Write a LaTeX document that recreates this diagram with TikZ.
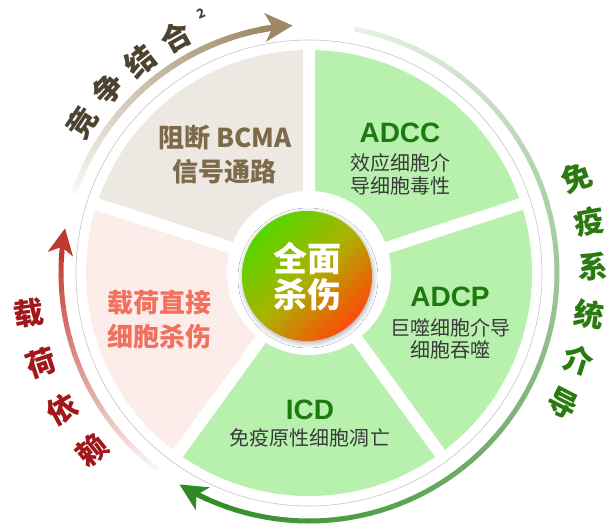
\documentclass[tikz,border=0pt]{standalone}
\usepackage{fontspec}
\setmainfont{Noto Sans CJK SC}
\newfontfamily\lat{Liberation Sans}
\usetikzlibrary{arrows.meta,shadows.blur}
\definecolor{beigeS}{HTML}{EDE9E2}
\definecolor{greenS}{HTML}{B8F0AE}
\definecolor{pinkS}{HTML}{FDEDEA}
\definecolor{brownT}{HTML}{7D6A4B}
\definecolor{brownArc}{HTML}{4D4330}
\definecolor{brownA}{HTML}{9C8862}
\definecolor{greenA}{HTML}{2F8A24}
\definecolor{greenT}{HTML}{2A7A10}
\definecolor{titleG}{HTML}{1D7A0E}
\definecolor{subT}{HTML}{3A3A3A}
\definecolor{salmon}{HTML}{F2705F}
\definecolor{redA}{HTML}{C0392F}
\definecolor{redT}{HTML}{A3171B}
\definecolor{coreG}{HTML}{55D600}
\definecolor{coreM}{HTML}{AAB200}
\definecolor{coreO}{HTML}{FF4A0A}
\begin{document}
\begin{tikzpicture}[x=1pt,y=1pt,
  secbig/.style={font=\fontsize{26}{28}\selectfont\bfseries, inner sep=0pt},
  titletext/.style={font=\lat\fontsize{28}{30}\selectfont\bfseries, text=titleG, inner sep=0pt},
  subtext/.style={font=\fontsize{20}{22}\selectfont, text=subT, inner sep=0pt},
  arcchar/.style={font=\fontsize{30}{32}\selectfont\bfseries, inner sep=0pt},
  sep/.style={white, line width=12pt},
]
\useasboundingbox (-309,-252) rectangle (301,273);
\fill[white] (-309,-252) rectangle (301,273);

% sectors
\fill[beigeS] (0,0) -- (90:223) arc[start angle=90,end angle=162,radius=223] -- cycle;
\fill[greenS] (0,0) -- (18:223) arc[start angle=18,end angle=90,radius=223] -- cycle;
\fill[greenS] (0,0) -- (-54:223) arc[start angle=-54,end angle=18,radius=223] -- cycle;
\fill[greenS] (0,0) -- (-126:223) arc[start angle=-126,end angle=-54,radius=223] -- cycle;
\fill[pinkS] (0,0) -- (162:223) arc[start angle=162,end angle=234,radius=223] -- cycle;
\foreach \t in {90,18,-54,-126,162} \draw[sep] (0,0) -- (\t:236);

% thin outer ring
\draw[gray!45, line width=0.6pt] (0,0) circle[radius=233];

% centre
\fill[white] (0,0) circle[radius=82];
\node[circle, inner sep=0pt, minimum size=130pt,
  blur shadow={shadow xshift=1pt, shadow yshift=-2pt, shadow blur radius=5pt, shadow opacity=35},
  top color=coreG, bottom color=coreO, middle color=coreM, shading angle=45] (core) at (-2,-3) {};
\node[font=\fontsize{34}{36}\selectfont\bfseries, text=white, inner sep=0pt] (c1) at (-2,15) {全面};
\node[font=\fontsize{34}{36}\selectfont\bfseries, text=white, inner sep=0pt] (c2) at (-2,-22) {杀伤};

% sector texts
\node[secbig, text=brownT] (b1) at (-84,135) {阻断 BCMA};
\node[secbig, text=brownT] (b2) at (-84,101) {信号通路};
\node[titletext] (t1) at (91,140) {ADCC};
\node[subtext] (s1a) at (91,110) {效应细胞介};
\node[subtext] (s1b) at (91,87) {导细胞毒性};
\node[titletext] (t2) at (141,-24) {ADCP};
\node[subtext] (s2a) at (141,-55) {巨噬细胞介导};
\node[subtext] (s2b) at (141,-77) {细胞吞噬};
\node[titletext] (t3) at (1,-137) {ICD};
\node[subtext] (s3a) at (1,-165) {免疫原性细胞凋亡};
\node[secbig, text=salmon] (p1) at (-149,-30) {载荷直接};
\node[secbig, text=salmon] (p2) at (-149,-64) {细胞杀伤};

% brown arrow
\foreach \k in {0,...,40} {
  \pgfmathsetmacro\a{161.1-\k*1.5}
  \pgfmathtruncatemacro\p{8+\k*2.3}
  \draw[line width=6pt, brownA!\p!white] (\a:248) arc[start angle=\a, end angle=\a-1.7, radius=248];
}
\draw[line width=6pt, brownA, -{Stealth[length=27pt, width=28pt, inset=7pt]}] (101.2:248) arc[start angle=101.2, end angle=93.8, radius=248];

% green arrow
\foreach \k in {0,...,80} {
  \pgfmathsetmacro\a{79.4-\k*2.42}
  \pgfmathtruncatemacro\p{12+\k*1.1}
  \draw[line width=5pt, greenA!\p!white] (\a:248) arc[start angle=\a, end angle=\a-2.6, radius=248];
}
\draw[line width=5pt, greenA, -{Stealth[length=27pt, width=26pt, inset=7pt]}] (-114:248) arc[start angle=-114, end angle=-121.5, radius=248];

% red arrow
\foreach \k in {0,...,30} {
  \pgfmathsetmacro\a{232.3-\k*1.84}
  \pgfmathtruncatemacro\p{5+\k*3.1}
  \draw[line width=5pt, redA!\p!white] (\a:248) arc[start angle=\a, end angle=\a-2.0, radius=248];
}
\draw[line width=5pt, redA, -{Stealth[length=26pt, width=25pt, inset=7pt]}] (177.2:248) arc[start angle=177.2, end angle=169.6, radius=248];

% brown arc text
\node[arcchar, text=brownArc, rotate=56.5] (w1) at (146.5:272) {竞};
\node[arcchar, text=brownArc, rotate=47.5] (w2) at (137.5:272) {争};
\node[arcchar, text=brownArc, rotate=38.5] (w3) at (128.5:271) {结};
\node[arcchar, text=brownArc, rotate=29.5] (w4) at (119.5:271) {合};
\node[font=\fontsize{13}{13}\selectfont\bfseries, text=brownArc, inner sep=0pt, rotate=23] (w5) at (112.6:281) {2};

% green arc text
\node[arcchar, text=greenT, rotate=19.7] (g1) at (19.7:284) {免};
\node[arcchar, text=greenT, rotate=10.4] (g2) at (10.4:285) {疫};
\node[arcchar, text=greenT, rotate=1.2] (g3) at (1.2:284) {系};
\node[arcchar, text=greenT, rotate=-8.5] (g4) at (-8.5:283) {统};
\node[arcchar, text=greenT, rotate=-17.9] (g5) at (-17.9:283) {介};
\node[arcchar, text=greenT, rotate=-27.2] (g6) at (-27.2:285) {导};

% red arc text
\node[arcchar, text=redT, rotate=8.1] (r1) at (188.1:283) {载};
\node[arcchar, text=redT, rotate=18.5] (r2) at (198.5:283) {荷};
\node[arcchar, text=redT, rotate=28.8] (r3) at (208.8:282) {依};
\node[arcchar, text=redT, rotate=39.2] (r4) at (219.2:280) {赖};
\end{tikzpicture}
\end{document}
